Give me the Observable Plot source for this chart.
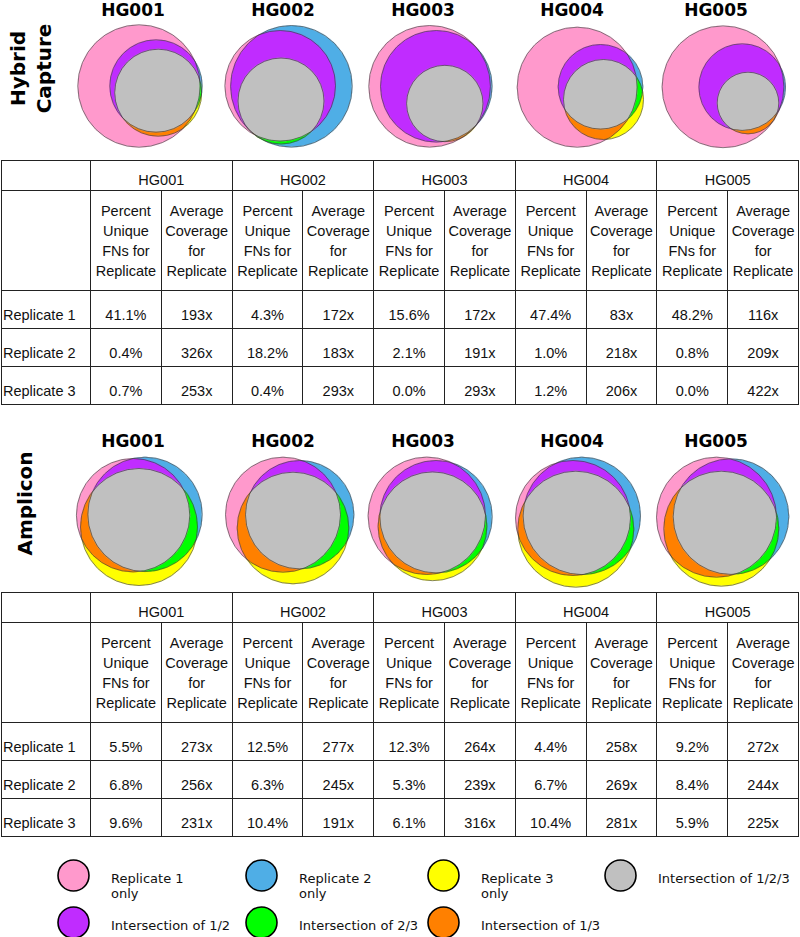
<!DOCTYPE html>
<html><head><meta charset="utf-8">
<script src="https://cdn.jsdelivr.net/npm/d3@7"></script>
<script src="https://cdn.jsdelivr.net/npm/@observablehq/plot@0.6"></script>
<style>
html,body{margin:0;padding:0;background:#fff}
body{width:800px;height:937px;position:relative;overflow:hidden}
.blk{position:absolute;left:0}
table{border-collapse:collapse;table-layout:fixed;position:absolute;left:1px;width:798px;font-family:"Liberation Sans",Arial,sans-serif;font-size:14.5px;line-height:20px;color:#111}
td{border:1px solid #222;padding:0;text-align:center;vertical-align:bottom;overflow:hidden;white-space:nowrap}
td.lab{text-align:left;padding-left:1px}
tr.sub td{vertical-align:middle}
tr.rep td{padding-bottom:3px}
</style></head><body>
<div id="venn1" class="blk" style="top:0"></div>
<div id="tab1"></div>
<div id="venn2" class="blk" style="top:425px"></div>
<div id="tab2"></div>
<div id="legend" class="blk" style="top:840px"></div>
<script>
// ---------- data ----------
const samples = ["HG001", "HG002", "HG003", "HG004", "HG005"];
const replicates = ["Replicate 1", "Replicate 2", "Replicate 3"];
const colHeaders = [["Percent", "Unique", "FNs for", "Replicate"], ["Average", "Coverage", "for", "Replicate"]];

// Hybrid Capture table: rows = replicates, columns = samples
const hybridPercent = [
  [41.1, 4.3, 15.6, 47.4, 48.2],
  [0.4, 18.2, 2.1, 1.0, 0.8],
  [0.7, 0.4, 0.0, 1.2, 0.0]
];
const hybridCoverage = [
  [193, 172, 172, 83, 116],
  [326, 183, 191, 218, 209],
  [253, 293, 293, 206, 422]
];
// Amplicon table
const ampliconPercent = [
  [5.5, 12.5, 12.3, 4.4, 9.2],
  [6.8, 6.3, 5.3, 6.7, 8.4],
  [9.6, 10.4, 6.1, 10.4, 5.9]
];
const ampliconCoverage = [
  [273, 277, 264, 258, 272],
  [256, 245, 239, 269, 244],
  [231, 191, 316, 281, 225]
];

// Euler circles per sample: [dx, dy, r] for replicate 1, 2, 3 (relative to panel anchor)
const hybridCircles = [
  [[6, -0.5, 61.2], [23, -0.5, 46.2], [25.2, 6.2, 43.5]],
  [[-2.8, -0.7, 55.3], [8.4, -0.2, 60.8], [-2, 14.5, 43]],
  [[6.6, -0.2, 60.8], [13.3, -0.2, 55.8], [21.8, 17, 38.2]],
  [[5.2, 0.7, 60], [28.5, 0.3, 42.3], [31.5, 13, 40]],
  [[7, 0.3, 60.9], [26.2, 0.6, 43.3], [32, 16.5, 30.8]]
];
const ampliconCircles = [
  [[0.1, -0.3, 56.7], [12, -1.1, 57.2], [6, 11.5, 58.5]],
  [[0, -0.8, 57.5], [16.7, -0.8, 54.2], [10, 12.5, 55.8]],
  [[3.8, 0.3, 58.7], [13, 1.2, 56.2], [9.5, 10.8, 54.4]],
  [[1, 2.5, 57.5], [9.8, 0.4, 58.7], [3.8, 13.7, 58]],
  [[0.5, 1.7, 60], [15, 1.1, 57.8], [5.3, 13.2, 57.5]]
];

const regionKeys = ["1", "2", "3", "123", "12", "23", "13"];
const regionLabels = ["Replicate 1\nonly", "Replicate 2\nonly", "Replicate 3\nonly", "Intersection of 1/2/3",
  "Intersection of 1/2", "Intersection of 2/3", "Intersection of 1/3"];
const regionColors = ["#ff99cc", "#4faee6", "#ffff00", "#c0c0c0", "#c02cff", "#00ff00", "#ff8000"];

// ---------- layout ----------
const panelX = [132.5, 282.5, 422.5, 571.5, 715.5];

function vennRow(circles, top, height, anchorY, titleY, label, labelX, labelY) {
  const rows = [];
  samples.forEach((s, i) => circles[i].forEach(([dx, dy, r], k) =>
    rows.push({sample: s, rep: k + 1, cx: panelX[i] + dx, cy: anchorY + dy, r})));
  const panels = samples.map(s => rows.filter(d => d.sample === s));
  const region = (x, y) => {
    for (const p of panels) {
      let key = "";
      for (const c of p) if ((x - c.cx) ** 2 + (y - c.cy) ** 2 <= c.r * c.r) key += c.rep;
      if (key) return key;
    }
    return "0";
  };
  return Plot.plot({
    width: 800, height, margin: 0,
    x: {domain: [0, 800], range: [0, 800], axis: null},
    y: {domain: [top, top + height], range: [0, height], axis: null},
    r: {type: "linear", domain: [0, 100], range: [0, 100]},
    color: {type: "ordinal", domain: ["0", ...regionKeys], range: ["#ffffff", ...regionColors]},
    style: {fontFamily: "DejaVu Sans", background: "white"},
    marks: [
      Plot.raster({x1: 60, x2: 800, y1: top + 18, y2: top + height, pixelSize: 0.5, fill: region, imageRendering: "auto"}),
      Plot.dot(rows, {x: "cx", y: "cy", r: "r", stroke: "#333", strokeWidth: 0.75, strokeOpacity: 0.8, fill: "none"}),
      Plot.text(samples, {x: (d, i) => panelX[i], y: titleY, text: d => d, fontSize: 17, fontWeight: "bold", fill: "#000"}),
      Plot.text([label], {x: labelX, y: labelY, text: d => d, rotate: -90, fontSize: 20, fontWeight: "bold", lineHeight: 1.3, fill: "#000"})
    ]
  });
}

function buildTable(top, percent, coverage) {
  let h = `<table style="top:${top}px"><colgroup><col style="width:89px">` +
    samples.map(() => `<col><col>`).join("") + `</colgroup>`;
  h += `<tr class="hg" style="height:30px"><td class="lab"></td>` + samples.map(s => `<td colspan="2">${s}</td>`).join("") + `</tr>`;
  h += `<tr class="sub" style="height:100px"><td></td>` +
    samples.map(() => colHeaders.map(c => `<td>${c.join("<br>")}</td>`).join("")).join("") + `</tr>`;
  replicates.forEach((rep, r) => {
    h += `<tr class="rep" style="height:38px"><td class="lab">${rep}</td>` +
      samples.map((s, i) => `<td>${percent[r][i].toFixed(1)}%</td><td>${coverage[r][i]}x</td>`).join("") + `</tr>`;
  });
  h += `</table>`;
  const div = document.createElement("div");
  div.innerHTML = h;
  return div.firstChild;
}

document.getElementById("venn1").append(vennRow(hybridCircles, 0, 158, 86, 10, "Hybrid\nCapture", 29, 68));
document.getElementById("tab1").append(buildTable(160, hybridPercent, hybridCoverage));
document.getElementById("venn2").append(vennRow(ampliconCircles, 425, 166, 515, 441.5, "Amplicon", 23, 503));
document.getElementById("tab2").append(buildTable(592, ampliconPercent, ampliconCoverage));

// legend
const legendColX = [73, 261, 443, 620];
const legendRowY = [875, 922];
const legendItems = regionKeys.map((k, i) => ({
  key: k, label: regionLabels[i],
  cx: legendColX[i < 4 ? i : i - 4], cy: legendRowY[i < 4 ? 0 : 1]
}));
document.getElementById("legend").append(Plot.plot({
  width: 800, height: 97, margin: 0,
  x: {domain: [0, 800], range: [0, 800], axis: null},
  y: {domain: [840, 937], range: [0, 97], axis: null},
  color: {type: "ordinal", domain: regionKeys, range: regionColors},
  style: {fontFamily: "DejaVu Sans", background: "white"},
  marks: [
    Plot.dot(legendItems, {x: "cx", y: "cy", r: 15.5, fill: "key", stroke: "#000", strokeWidth: 1.6}),
    Plot.text(legendItems, {x: d => d.cx + 37.5, y: d => d.cy - 3, text: "label", textAnchor: "start", lineAnchor: "top", fontSize: 13, lineHeight: 1.15, fill: "#111"})
  ]
}));
</script>
</body></html>
